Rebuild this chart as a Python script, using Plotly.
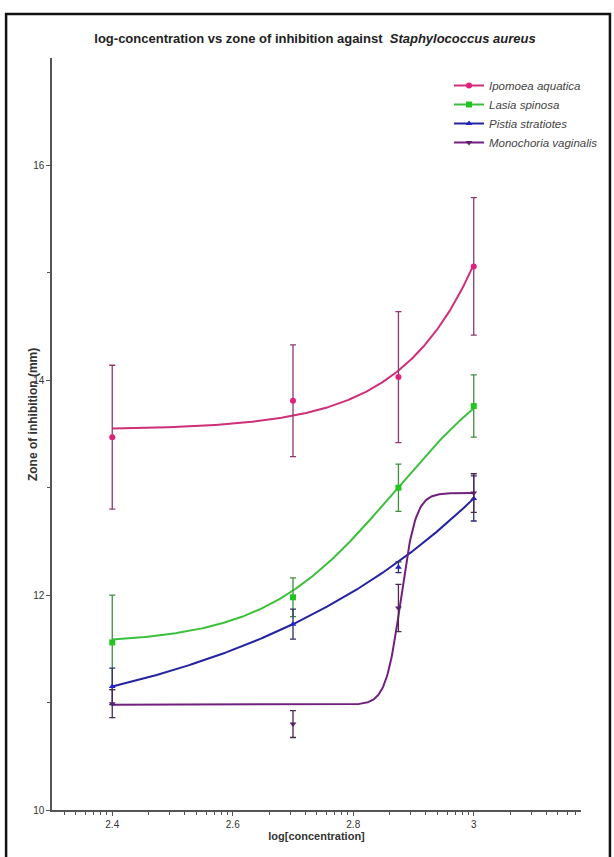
import math
import numpy as np
import plotly.graph_objects as go

# ---------------- data ----------------
log_conc = [2.4, 2.7, 2.875, 3.0]

series_names = ["Ipomoea aquatica", "Lasia spinosa", "Pistia stratiotes", "Monochoria vaginalis"]

ipomoea_mean = [13.47, 13.81, 14.03, 15.06]
ipomoea_err = [0.67, 0.52, 0.61, 0.64]

lasia_mean = [11.56, 11.98, 13.00, 13.76]
lasia_err = [0.44, 0.18, 0.22, 0.29]

pistia_mean = [11.15, 11.73, 12.26, 12.90]
pistia_err = [0.17, 0.14, 0.05, 0.21]

monochoria_mean = [10.99, 10.80, 11.88, 12.95]
monochoria_err = [0.13, 0.125, 0.22, 0.18]

# fitted-curve parameters
ipomoea_fit = dict(c=13.539, A=0.01116, k=8.21)          # exponential growth
lasia_fit = dict(bottom=11.55, top=14.4, x0=2.87, h=4.0)  # 4-parameter logistic
pistia_fit = dict(c=10.58, A=0.570, k=2.34)              # exponential growth
monochoria_fit = dict(bottom=10.98, top=12.95, x0=2.879, h=35.0)  # 4PL

x_tick_vals = [2.4, 2.6, 2.8, 3.0]
x_tick_text = ["2.4", "2.6", "2.8", "3"]
y_tick_vals = [10, 12, 14, 16]
y_tick_text = ["10", "12", "14", "16"]


def expo(x, c, A, k):
    return c + A * np.exp(k * (x - 2.4))


def logistic(x, bottom, top, x0, h):
    return bottom + (top - bottom) / (1 + 10 ** ((x0 - x) * h))


xfit = np.linspace(min(log_conc), max(log_conc), 400)
fits = [
    expo(xfit, **ipomoea_fit),
    logistic(xfit, **lasia_fit),
    expo(xfit, **pistia_fit),
    logistic(xfit, **monochoria_fit),
]
means = [ipomoea_mean, lasia_mean, pistia_mean, monochoria_mean]
errs = [ipomoea_err, lasia_err, pistia_err, monochoria_err]

line_colors = ["#cf2f78", "#3cbf3c", "#2424a0", "#72207f"]
marker_colors = ["#e0207a", "#22c422", "#2222c8", "#5a1f6a"]
err_colors = ["#8e3a6e", "#3f8f3f", "#2e2e6e", "#4e2650"]
symbols = ["circle", "square", "triangle-up", "triangle-down"]

# ---------------- figure ----------------
W, H = 614, 857
L, R, T, B = 52, 32, 58, 47
pw, ph = W - L - R, H - T - B

fig = go.Figure()

for i in range(4):
    fig.add_trace(go.Scatter(
        x=xfit, y=fits[i], mode="lines",
        line=dict(color=line_colors[i], width=2),
        showlegend=False, hoverinfo="skip"))

for i in range(4):
    fig.add_trace(go.Scatter(
        x=log_conc, y=means[i], mode="markers",
        marker=dict(symbol=symbols[i], size=6, color=marker_colors[i]),
        error_y=dict(type="data", array=errs[i], visible=True,
                     color=err_colors[i], thickness=1.3, width=3),
        showlegend=False))

for i in range(4):
    fig.add_trace(go.Scatter(
        x=[None], y=[None], mode="lines+markers", name="<i>" + series_names[i] + "</i>",
        line=dict(color=line_colors[i], width=2),
        marker=dict(symbol=symbols[i], size=6, color=marker_colors[i])))

# minor x ticks (log-spaced within each 0.2 step, as in the original)
minor_x = []
for base in [2.2, 2.4, 2.6, 2.8, 3.0]:
    for k in range(2, 10):
        v = base + 0.2 * math.log10(k)
        if 2.3 < v < 3.178:
            minor_x.append(round(v, 5))

FONT = "Liberation Sans, Arial, sans-serif"
axis_color = "#555555"
tick_font = dict(family=FONT, size=10, color="#333333")

fig.update_xaxes(
    range=[2.3, 3.178], showgrid=False, zeroline=False,
    showline=True, linecolor=axis_color, linewidth=1.5,
    ticks="outside", ticklen=4, tickwidth=1.2, tickcolor=axis_color,
    tickvals=x_tick_vals, ticktext=x_tick_text, tickfont=tick_font,
    minor=dict(tickvals=minor_x, ticks="outside", ticklen=3, tickwidth=1, tickcolor=axis_color),
    title=dict(text="<b>log[concentration]</b>", standoff=2,
               font=dict(family=FONT, size=11, color="#333333")),
)
fig.update_yaxes(
    range=[10, 17], showgrid=False, zeroline=False,
    showline=True, linecolor=axis_color, linewidth=1.5,
    ticks="outside", ticklen=4, tickwidth=1.2, tickcolor=axis_color,
    tickvals=y_tick_vals, ticktext=y_tick_text, tickfont=tick_font,
    minor=dict(tickvals=[11, 13, 15], ticks="outside", ticklen=3, tickwidth=1, tickcolor=axis_color),
)


def px_x(p):
    return (p - L) / pw


def px_y(p):
    return (H - B - p) / ph


fig.add_annotation(
    x=px_x(33), y=px_y(415), xref="paper", yref="paper",
    xanchor="center", yanchor="middle",
    text="<b>Zone of inhibition (mm)</b>", showarrow=False, textangle=-90,
    font=dict(family=FONT, size=12, color="#333333"))

# outer frame
fig.add_shape(type="rect", xref="paper", yref="paper",
              x0=px_x(6), x1=px_x(611), y0=px_y(870), y1=px_y(14),
              line=dict(color="#111111", width=2.5))

fig.update_layout(
    width=W, height=H,
    margin=dict(l=L, r=R, t=T, b=B),
    paper_bgcolor="white", plot_bgcolor="white",
    title=dict(
        text="<b>log-concentration vs zone of inhibition against  <i>Staphylococcus aureus</i></b>",
        x=315 / W, xanchor="center", y=1 - 38 / H, yanchor="middle",
        font=dict(family=FONT, size=13, color="#222222")),
    legend=dict(
        x=px_x(449), y=px_y(71), xanchor="left", yanchor="top",
        bgcolor="rgba(0,0,0,0)",
        font=dict(family=FONT, size=11.5, color="#444444"),
        tracegroupgap=4, itemwidth=30),
    showlegend=True,
)

fig.write_html("out.html", config={"displayModeBar": False},
               post_script="document.body.style.margin='0px';")
